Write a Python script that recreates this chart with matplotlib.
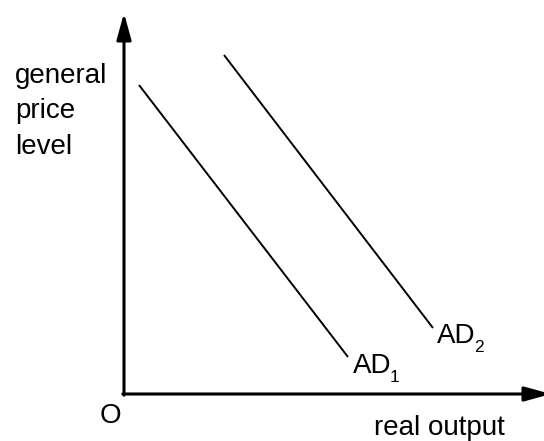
import matplotlib
matplotlib.use("Agg")
import matplotlib.pyplot as plt

plt.rcParams['font.family'] = ['Liberation Sans', 'DejaVu Sans']

# Curves (data coordinates, origin O at (0,0))
ad1_x = [15, 224]
ad1_y = [309, 37]
ad2_x = [100, 309]
ad2_y = [339, 66]
x_axis_end = 427
y_axis_end = 381

y_label_lines = ["general", "price", "level"]
x_label = "real output"
labels = ["AD", "AD"]
subscripts = ["1", "2"]

fig = plt.figure(figsize=(5.44, 4.41), dpi=100)
ax = fig.add_axes([0, 0, 1, 1])
ax.set_xlim(-124, 420)
ax.set_ylim(-47, 394)
ax.axis('off')

arrow = dict(arrowstyle='-|>,head_length=0.8,head_width=0.22', lw=2.2,
             color='black', mutation_scale=20, shrinkA=0, shrinkB=0)
ax.annotate('', xy=(0, y_axis_end), xytext=(0, -1.2), arrowprops=arrow,
            annotation_clip=False)
ax.annotate('', xy=(x_axis_end, 0), xytext=(-1.2, 0), arrowprops=arrow,
            annotation_clip=False)

ax.plot(ad1_x, ad1_y, color='black', lw=1.4, solid_capstyle='butt')
ax.plot(ad2_x, ad2_y, color='black', lw=1.4, solid_capstyle='butt')

fs = 20
for txt, yb in zip(y_label_lines, [311, 276, 240]):
    ax.text(-109, yb, txt, fontsize=fs, ha='left', va='baseline')
ax.text(-24, -29, "O", fontsize=fs, ha='left', va='baseline')
ax.text(250, -41, x_label, fontsize=fs, ha='left', va='baseline')

ax.text(229, 21, labels[0], fontsize=fs, ha='left', va='baseline')
ax.text(266, 12, subscripts[0], fontsize=12.5, ha='left', va='baseline')
ax.text(313, 51, labels[1], fontsize=fs, ha='left', va='baseline')
ax.text(350, 42, subscripts[1], fontsize=12.5, ha='left', va='baseline')

fig.savefig("out.png", dpi=100)
